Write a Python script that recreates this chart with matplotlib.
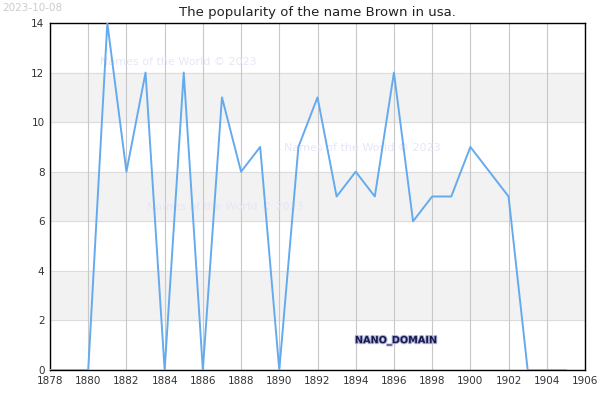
import matplotlib
matplotlib.use("Agg")
import matplotlib.pyplot as plt
import matplotlib.patheffects as pe

years = [1878, 1879, 1880, 1881, 1882, 1883, 1884, 1885, 1886, 1887, 1888, 1889,
         1890, 1891, 1892, 1893, 1894, 1895, 1896, 1897, 1898, 1899, 1900, 1901,
         1902, 1903, 1904, 1905]
counts = [0, 0, 0, 14, 8, 12, 0, 12, 0, 11, 8, 9,
          0, 9, 11, 7, 8, 7, 12, 6, 7, 7, 9, 8,
          7, 0, 0, 0]
xticks = list(range(1878, 1907, 2))
yticks = list(range(0, 15, 2))

fig = plt.figure(figsize=(6, 4), dpi=100)
ax = fig.add_axes([50/600, 30/400, 535/600, 347/400])
ax.set_xlim(1878, 1906)
ax.set_ylim(0, 14)

for lo in (2, 6, 10):
    ax.axhspan(lo, lo + 2, color="#f2f2f2", zorder=0)
for y in yticks:
    ax.axhline(y, color="#dddddd", lw=0.8, zorder=1)
for x in xticks:
    ax.axvline(x, color="#c8c8c8", lw=0.8, zorder=1)

ax.plot(years, counts, color="#66aaee", lw=1.4, zorder=3)

ax.set_xticks(xticks)
ax.set_yticks(yticks)
ax.tick_params(length=0, labelsize=7.5, colors="#333333", pad=4)
for s in ax.spines.values():
    s.set_color("black")
    s.set_linewidth(1)

ax.set_title("The popularity of the name Brown in usa.", fontsize=9.5, color="#222222", pad=5)
fig.text(2/600, 1 - 8/400, "2023-10-08", fontsize=7.5, color="#cccccc", va="center", ha="left")

wm_color = "#e6e6fa"
ax.text(1880.6, 12.43, "Names of the World © 2023", fontsize=8, color=wm_color, va="center", zorder=2)
ax.text(1883.1, 6.58, "Names of the World © 2023", fontsize=8, color=wm_color, va="center", zorder=2)
ax.text(1890.25, 8.96, "Names of the World © 2023", fontsize=8, color=wm_color, va="center", zorder=2)

ax.text(1896.1, 1.2, "NANO_DOMAIN", fontsize=7, color="#1a1a4a", ha="center", va="center",
        fontweight="bold", zorder=4,
        path_effects=[pe.withStroke(linewidth=1.5, foreground="#aab0dd")])

fig.savefig("out.png", dpi=100)
